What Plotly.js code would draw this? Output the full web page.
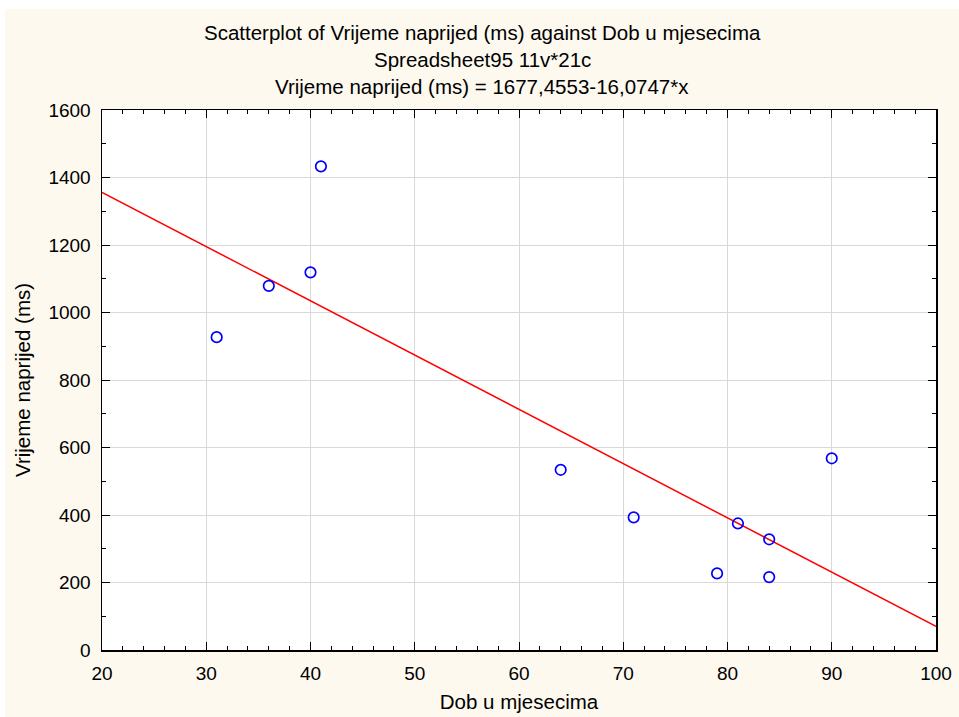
<!DOCTYPE html>
<html>
<head>
<meta charset="utf-8">
<script src="https://cdn.plot.ly/plotly-3.0.1.min.js"></script>
<style>
html,body{margin:0;padding:0;background:#ffffff;}
#chart{position:absolute;left:5px;top:9px;width:954px;height:708px;}
</style>
</head>
<body>
<div id="chart"></div>
<script>
// Data
const ageMonths = [31, 36, 40, 41, 64, 71, 79, 81, 84, 84, 90];
const timeMs = [927, 1079, 1119, 1433, 534, 393, 227, 375, 328, 216, 568];
// Regression line endpoints (Vrijeme naprijed = 1677,4553 - 16,0747*x)
const fitX = [20, 100];
const fitY = [1355.96, 69.98];
const titleLines = [
  "Scatterplot of Vrijeme naprijed (ms) against Dob u mjesecima",
  "Spreadsheet95 11v*21c",
  "Vrijeme naprijed (ms) = 1677,4553-16,0747*x"
];
const xTitle = "Dob u mjesecima";
const yTitle = "Vrijeme naprijed (ms)";

const font = {family: "Liberation Sans, Arial, sans-serif", size: 19, color: "#000000"};
const tfont = {family: "Liberation Sans, Arial, sans-serif", size: 20.5, color: "#000000"};

const traces = [
  {
    x: fitX, y: fitY, type: "scatter", mode: "lines",
    line: {color: "#ff0000", width: 1.5}, hoverinfo: "skip"
  },
  {
    x: ageMonths, y: timeMs, type: "scatter", mode: "markers",
    marker: {symbol: "circle-open", size: 10.5, color: "#0000ff", line: {width: 1.7, color: "#0000ff"}}
  }
];

const titleY = [1.144, 1.094, 1.044];
const annotations = titleLines.map((t, i) => ({
  text: t, xref: "paper", yref: "paper", x: 0.456, y: titleY[i],
  xanchor: "center", yanchor: "middle", showarrow: false, font: tfont
}));

const axisCommon = {
  showline: true, linecolor: "#000000", linewidth: 1.5, mirror: "ticks",
  ticks: "inside", ticklen: 8, tickwidth: 1, tickcolor: "#000000",
  showgrid: true, gridcolor: "#d9d9d9", gridwidth: 1, zeroline: false,
  tickfont: font
};

const layout = {
  width: 954, height: 708,
  margin: {l: 97, r: 23, t: 101, b: 67},
  paper_bgcolor: "#fdf9ef", plot_bgcolor: "#ffffff",
  showlegend: false,
  font: font,
  annotations: annotations,
  xaxis: Object.assign({}, axisCommon, {
    range: [20, 100], dtick: 10, tick0: 20,
    ticklabelstandoff: 6,
    minor: {ticks: "inside", ticklen: 4, dtick: 2, tick0: 20, tickcolor: "#000000", showgrid: false},
    title: {text: xTitle, font: tfont, standoff: 11}
  }),
  yaxis: Object.assign({}, axisCommon, {
    range: [0, 1600], dtick: 200, tick0: 0,
    ticklabelstandoff: 6,
    minor: {ticks: "inside", ticklen: 4, dtick: 100, tick0: 0, tickcolor: "#000000", showgrid: false},
    title: {text: yTitle, font: tfont, standoff: 12}
  })
};

Plotly.newPlot("chart", traces, layout, {staticPlot: true});
</script>
</body>
</html>
